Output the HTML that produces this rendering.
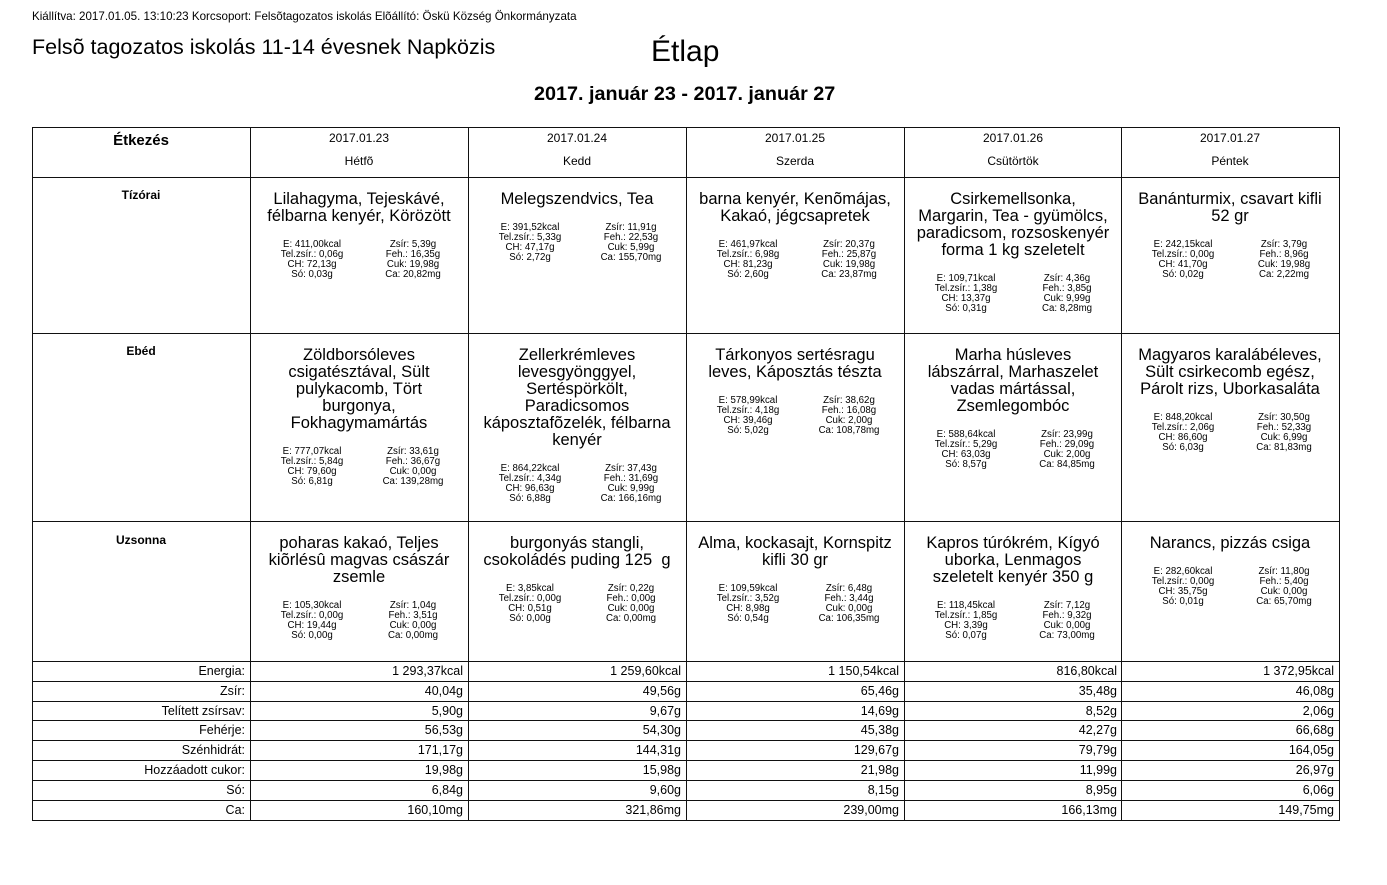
<!DOCTYPE html>
<html><head><meta charset="utf-8"><style>
body{margin:0;width:1387px;height:885px;background:#fff;font-family:"Liberation Sans",Arial,sans-serif;color:#000;position:relative;overflow:hidden}
.a{position:absolute;white-space:nowrap}
.b{position:absolute;background:#111}
.c{position:absolute;width:218px;text-align:center}
.m{font-size:16.5px;line-height:17px;padding-top:14px}
.n{position:relative;height:42px;margin-top:15px;font-size:9.7px;line-height:10px}
.n .l{position:absolute;left:0;width:124px;text-align:center}
.n .r{position:absolute;left:108px;width:110px;text-align:center}
.h{position:absolute;width:218px;text-align:center;font-size:12px}
.lab{position:absolute;left:32px;width:213px;text-align:right;font-size:12.5px}
.v{position:absolute;width:213px;text-align:right;font-size:12.5px}
.rl{position:absolute;left:32px;width:218px;text-align:center;font-weight:bold;font-size:12px}
</style></head><body>
<div class="a" style="left:32px;top:10px;font-size:11.6px">Kiállítva: 2017.01.05. 13:10:23 Korcsoport: Felsõtagozatos iskolás Elõállító: Öskü Község Önkormányzata</div>
<div class="a" style="left:32px;top:35px;font-size:21.5px">Felsõ tagozatos iskolás 11-14 évesnek Napközis</div>
<div class="a" style="left:651px;top:35px;font-size:30px">Étlap</div>
<div class="a" style="left:534px;top:83px;font-size:19.8px;font-weight:bold">2017. január 23 - 2017. január 27</div>

<div class="b" style="left:32px;top:127px;width:1308px;height:1px"></div>
<div class="b" style="left:32px;top:177px;width:1308px;height:1px"></div>
<div class="b" style="left:32px;top:333px;width:1308px;height:1px"></div>
<div class="b" style="left:32px;top:521px;width:1308px;height:1px"></div>
<div class="b" style="left:32px;top:661px;width:1308px;height:1px"></div>
<div class="b" style="left:32px;top:681px;width:1308px;height:1px"></div>
<div class="b" style="left:32px;top:701px;width:1308px;height:1px"></div>
<div class="b" style="left:32px;top:720px;width:1308px;height:1px"></div>
<div class="b" style="left:32px;top:740px;width:1308px;height:1px"></div>
<div class="b" style="left:32px;top:760px;width:1308px;height:1px"></div>
<div class="b" style="left:32px;top:780px;width:1308px;height:1px"></div>
<div class="b" style="left:32px;top:800px;width:1308px;height:1px"></div>
<div class="b" style="left:32px;top:820px;width:1308px;height:1px"></div>
<div class="b" style="left:32px;top:127px;width:1px;height:694px"></div>
<div class="b" style="left:250px;top:127px;width:1px;height:694px"></div>
<div class="b" style="left:468px;top:127px;width:1px;height:694px"></div>
<div class="b" style="left:686px;top:127px;width:1px;height:694px"></div>
<div class="b" style="left:904px;top:127px;width:1px;height:694px"></div>
<div class="b" style="left:1121px;top:127px;width:1px;height:694px"></div>
<div class="b" style="left:1339px;top:127px;width:1px;height:694px"></div>

<div class="rl" style="top:132px;font-size:15px">Étkezés</div>
<div class="h" style="left:250px;top:131px">2017.01.23</div><div class="h" style="left:250px;top:154px">Hétfõ</div>
<div class="h" style="left:468px;top:131px">2017.01.24</div><div class="h" style="left:468px;top:154px">Kedd</div>
<div class="h" style="left:686px;top:131px">2017.01.25</div><div class="h" style="left:686px;top:154px">Szerda</div>
<div class="h" style="left:904px;top:131px">2017.01.26</div><div class="h" style="left:904px;top:154px">Csütörtök</div>
<div class="h" style="left:1121px;top:131px">2017.01.27</div><div class="h" style="left:1121px;top:154px">Péntek</div>

<div class="rl" style="top:188px">Tízórai</div>
<div class="rl" style="top:344px">Ebéd</div>
<div class="rl" style="top:533px">Uzsonna</div>

<div class="c" style="left:250px;top:177px"><div class="m">Lilahagyma, Tejeskávé,<br>félbarna kenyér, Körözött</div><div class="n"><div class="l">E: 411,00kcal<br>Tel.zsír.: 0,06g<br>CH: 72,13g<br>Só: 0,03g</div><div class="r">Zsír: 5,39g<br>Feh.: 16,35g<br>Cuk: 19,98g<br>Ca: 20,82mg</div></div></div>
<div class="c" style="left:468px;top:177px"><div class="m">Melegszendvics, Tea</div><div class="n"><div class="l">E: 391,52kcal<br>Tel.zsír.: 5,33g<br>CH: 47,17g<br>Só: 2,72g</div><div class="r">Zsír: 11,91g<br>Feh.: 22,53g<br>Cuk: 5,99g<br>Ca: 155,70mg</div></div></div>
<div class="c" style="left:686px;top:177px"><div class="m">barna kenyér, Kenõmájas,<br>Kakaó, jégcsapretek</div><div class="n"><div class="l">E: 461,97kcal<br>Tel.zsír.: 6,98g<br>CH: 81,23g<br>Só: 2,60g</div><div class="r">Zsír: 20,37g<br>Feh.: 25,87g<br>Cuk: 19,98g<br>Ca: 23,87mg</div></div></div>
<div class="c" style="left:904px;top:177px"><div class="m">Csirkemellsonka,<br>Margarin, Tea - gyümölcs,<br>paradicsom, rozsoskenyér<br>forma 1 kg szeletelt</div><div class="n"><div class="l">E: 109,71kcal<br>Tel.zsír.: 1,38g<br>CH: 13,37g<br>Só: 0,31g</div><div class="r">Zsír: 4,36g<br>Feh.: 3,85g<br>Cuk: 9,99g<br>Ca: 8,28mg</div></div></div>
<div class="c" style="left:1121px;top:177px"><div class="m">Banánturmix, csavart kifli<br>52 gr</div><div class="n"><div class="l">E: 242,15kcal<br>Tel.zsír.: 0,00g<br>CH: 41,70g<br>Só: 0,02g</div><div class="r">Zsír: 3,79g<br>Feh.: 8,96g<br>Cuk: 19,98g<br>Ca: 2,22mg</div></div></div>

<div class="c" style="left:250px;top:333px"><div class="m">Zöldborsóleves<br>csigatésztával, Sült<br>pulykacomb, Tört<br>burgonya,<br>Fokhagymamártás</div><div class="n"><div class="l">E: 777,07kcal<br>Tel.zsír.: 5,84g<br>CH: 79,60g<br>Só: 6,81g</div><div class="r">Zsír: 33,61g<br>Feh.: 36,67g<br>Cuk: 0,00g<br>Ca: 139,28mg</div></div></div>
<div class="c" style="left:468px;top:333px"><div class="m">Zellerkrémleves<br>levesgyönggyel,<br>Sertéspörkölt,<br>Paradicsomos<br>káposztafõzelék, félbarna<br>kenyér</div><div class="n"><div class="l">E: 864,22kcal<br>Tel.zsír.: 4,34g<br>CH: 96,63g<br>Só: 6,88g</div><div class="r">Zsír: 37,43g<br>Feh.: 31,69g<br>Cuk: 9,99g<br>Ca: 166,16mg</div></div></div>
<div class="c" style="left:686px;top:333px"><div class="m">Tárkonyos sertésragu<br>leves, Káposztás tészta</div><div class="n"><div class="l">E: 578,99kcal<br>Tel.zsír.: 4,18g<br>CH: 39,46g<br>Só: 5,02g</div><div class="r">Zsír: 38,62g<br>Feh.: 16,08g<br>Cuk: 2,00g<br>Ca: 108,78mg</div></div></div>
<div class="c" style="left:904px;top:333px"><div class="m">Marha húsleves<br>lábszárral, Marhaszelet<br>vadas mártással,<br>Zsemlegombóc</div><div class="n"><div class="l">E: 588,64kcal<br>Tel.zsír.: 5,29g<br>CH: 63,03g<br>Só: 8,57g</div><div class="r">Zsír: 23,99g<br>Feh.: 29,09g<br>Cuk: 2,00g<br>Ca: 84,85mg</div></div></div>
<div class="c" style="left:1121px;top:333px"><div class="m">Magyaros karalábéleves,<br>Sült csirkecomb egész,<br>Párolt rizs, Uborkasaláta</div><div class="n"><div class="l">E: 848,20kcal<br>Tel.zsír.: 2,06g<br>CH: 86,60g<br>Só: 6,03g</div><div class="r">Zsír: 30,50g<br>Feh.: 52,33g<br>Cuk: 6,99g<br>Ca: 81,83mg</div></div></div>

<div class="c" style="left:250px;top:521px"><div class="m">poharas kakaó, Teljes<br>kiõrlésû magvas császár<br>zsemle</div><div class="n"><div class="l">E: 105,30kcal<br>Tel.zsír.: 0,00g<br>CH: 19,44g<br>Só: 0,00g</div><div class="r">Zsír: 1,04g<br>Feh.: 3,51g<br>Cuk: 0,00g<br>Ca: 0,00mg</div></div></div>
<div class="c" style="left:468px;top:521px"><div class="m">burgonyás stangli,<br>csokoládés puding 125&nbsp; g</div><div class="n"><div class="l">E: 3,85kcal<br>Tel.zsír.: 0,00g<br>CH: 0,51g<br>Só: 0,00g</div><div class="r">Zsír: 0,22g<br>Feh.: 0,00g<br>Cuk: 0,00g<br>Ca: 0,00mg</div></div></div>
<div class="c" style="left:686px;top:521px"><div class="m">Alma, kockasajt, Kornspitz<br>kifli 30 gr</div><div class="n"><div class="l">E: 109,59kcal<br>Tel.zsír.: 3,52g<br>CH: 8,98g<br>Só: 0,54g</div><div class="r">Zsír: 6,48g<br>Feh.: 3,44g<br>Cuk: 0,00g<br>Ca: 106,35mg</div></div></div>
<div class="c" style="left:904px;top:521px"><div class="m">Kapros túrókrém, Kígyó<br>uborka, Lenmagos<br>szeletelt kenyér 350 g</div><div class="n"><div class="l">E: 118,45kcal<br>Tel.zsír.: 1,85g<br>CH: 3,39g<br>Só: 0,07g</div><div class="r">Zsír: 7,12g<br>Feh.: 9,32g<br>Cuk: 0,00g<br>Ca: 73,00mg</div></div></div>
<div class="c" style="left:1121px;top:521px"><div class="m">Narancs, pizzás csiga</div><div class="n"><div class="l">E: 282,60kcal<br>Tel.zsír.: 0,00g<br>CH: 35,75g<br>Só: 0,01g</div><div class="r">Zsír: 11,80g<br>Feh.: 5,40g<br>Cuk: 0,00g<br>Ca: 65,70mg</div></div></div>

<div class="lab" style="top:664px">Energia:</div><div class="v" style="left:250px;top:664px">1 293,37kcal</div><div class="v" style="left:468px;top:664px">1 259,60kcal</div><div class="v" style="left:686px;top:664px">1 150,54kcal</div><div class="v" style="left:904px;top:664px">816,80kcal</div><div class="v" style="left:1121px;top:664px">1 372,95kcal</div>
<div class="lab" style="top:684px">Zsír:</div><div class="v" style="left:250px;top:684px">40,04g</div><div class="v" style="left:468px;top:684px">49,56g</div><div class="v" style="left:686px;top:684px">65,46g</div><div class="v" style="left:904px;top:684px">35,48g</div><div class="v" style="left:1121px;top:684px">46,08g</div>
<div class="lab" style="top:704px">Telített zsírsav:</div><div class="v" style="left:250px;top:704px">5,90g</div><div class="v" style="left:468px;top:704px">9,67g</div><div class="v" style="left:686px;top:704px">14,69g</div><div class="v" style="left:904px;top:704px">8,52g</div><div class="v" style="left:1121px;top:704px">2,06g</div>
<div class="lab" style="top:723px">Fehérje:</div><div class="v" style="left:250px;top:723px">56,53g</div><div class="v" style="left:468px;top:723px">54,30g</div><div class="v" style="left:686px;top:723px">45,38g</div><div class="v" style="left:904px;top:723px">42,27g</div><div class="v" style="left:1121px;top:723px">66,68g</div>
<div class="lab" style="top:743px">Szénhidrát:</div><div class="v" style="left:250px;top:743px">171,17g</div><div class="v" style="left:468px;top:743px">144,31g</div><div class="v" style="left:686px;top:743px">129,67g</div><div class="v" style="left:904px;top:743px">79,79g</div><div class="v" style="left:1121px;top:743px">164,05g</div>
<div class="lab" style="top:763px">Hozzáadott cukor:</div><div class="v" style="left:250px;top:763px">19,98g</div><div class="v" style="left:468px;top:763px">15,98g</div><div class="v" style="left:686px;top:763px">21,98g</div><div class="v" style="left:904px;top:763px">11,99g</div><div class="v" style="left:1121px;top:763px">26,97g</div>
<div class="lab" style="top:783px">Só:</div><div class="v" style="left:250px;top:783px">6,84g</div><div class="v" style="left:468px;top:783px">9,60g</div><div class="v" style="left:686px;top:783px">8,15g</div><div class="v" style="left:904px;top:783px">8,95g</div><div class="v" style="left:1121px;top:783px">6,06g</div>
<div class="lab" style="top:803px">Ca:</div><div class="v" style="left:250px;top:803px">160,10mg</div><div class="v" style="left:468px;top:803px">321,86mg</div><div class="v" style="left:686px;top:803px">239,00mg</div><div class="v" style="left:904px;top:803px">166,13mg</div><div class="v" style="left:1121px;top:803px">149,75mg</div>
</body></html>
